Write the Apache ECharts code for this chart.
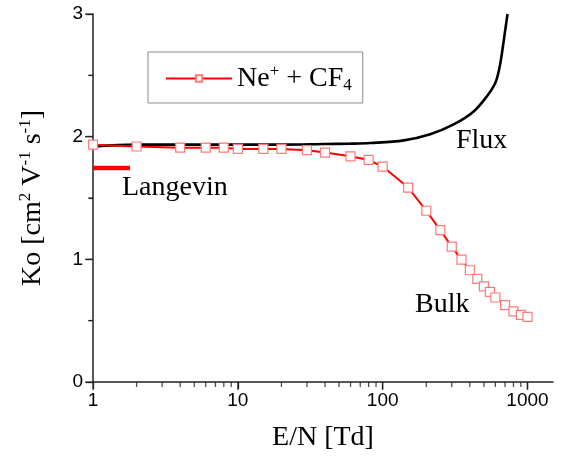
<!DOCTYPE html>
<html>
<head>
<meta charset="utf-8">
<script src="https://cdn.jsdelivr.net/npm/echarts@6/dist/echarts.min.js"></script>
<style>html,body{margin:0;padding:0;background:#fff}#c{width:565px;height:457px}</style>
</head>
<body>
<div id="c"></div>
<script>
// Bulk mobility (Ne+ in CF4)
var bulkX = [1, 2, 4, 6, 8, 10, 15, 20, 30, 40, 60, 80, 100, 150, 200, 250, 300, 350, 400, 450, 500, 550, 600, 700, 800, 900, 1000];
var bulkY = [1.935, 1.92, 1.91, 1.91, 1.91, 1.90, 1.90, 1.90, 1.89, 1.87, 1.84, 1.81, 1.756, 1.585, 1.396, 1.238, 1.103, 0.998, 0.911, 0.84, 0.78, 0.734, 0.689, 0.626, 0.575, 0.547, 0.531];
// Flux mobility
var fluxX = [1, 2, 5, 10, 20, 40, 60, 82, 140, 213, 309, 425, 525, 599, 640, 666, 702, 728];
var fluxY = [1.92, 1.935, 1.935, 1.935, 1.935, 1.94, 1.943, 1.948, 1.97, 2.02, 2.10, 2.206, 2.33, 2.437, 2.56, 2.68, 2.87, 3.0];
// Langevin limit
var langX = [1, 1.8];
var langY = [1.745, 1.745];
// Ticks
var xMajor = [1, 10, 100, 1000];
var xMinor = [2,3,4,5,6,7,8,9,20,30,40,50,60,70,80,90,200,300,400,500,600,700,800,900];
var yMajor = [0, 1, 2, 3];
var yMinor = [0.5, 1.5, 2.5];

function zip(a, b) { return a.map(function (v, i) { return [v, b[i]]; }); }

var serif = '"Liberation Serif", "Times New Roman", serif';
var sans = '"Liberation Sans", Arial, sans-serif';
var axisCol = '#222';

// tick marks drawn as scatter symbols at axis values (through the axis scales)
function tickSeries(data, size, offset) {
  return {
    type: 'scatter', data: data, symbol: 'rect', symbolSize: size, symbolOffset: offset,
    itemStyle: { color: axisCol }, silent: true, clip: false, z: 6,
    tooltip: { show: false }, emphasis: { disabled: true }
  };
}

var chart = echarts.init(document.getElementById('c'));
chart.setOption({
  animation: false,
  grid: { left: 93, right: 12, top: 14, bottom: 74 },
  legend: {
    left: 148, top: 52,
    padding: [11, 11, 9, 17],
    borderColor: '#8c8c8c', borderWidth: 1,
    itemWidth: 66, itemHeight: 8,
    data: ['bulk'],
    formatter: function () { return '{a|Ne}{sup|+}{a| + CF}{sub|4}'; },
    textStyle: {
      fontFamily: serif, fontSize: 28, color: '#000',
      rich: {
        a: { fontFamily: serif, fontSize: 28, color: '#000' },
        sup: { fontFamily: serif, fontSize: 17, color: '#000', verticalAlign: 'top', padding: [0, 0, 14, 0] },
        sub: { fontFamily: serif, fontSize: 17, color: '#000', verticalAlign: 'bottom', padding: [14, 0, 0, 0] }
      }
    }
  },
  xAxis: {
    type: 'log', logBase: 10, min: 1, max: 1500,
    position: 'bottom',
    name: 'E/N [Td]', nameLocation: 'middle', nameGap: 42,
    nameTextStyle: { fontFamily: serif, fontSize: 28, color: '#000' },
    axisLine: { show: true, lineStyle: { color: axisCol, width: 1.5 } },
    axisTick: { show: true, length: 7, customValues: xMajor, lineStyle: { color: axisCol, width: 1.3 } },
    axisLabel: { show: true, customValues: xMajor, formatter: function (v) { return String(Math.round(v)); }, fontFamily: sans, fontSize: 19, color: '#000', margin: 9 },
    splitLine: { show: false }
  },
  yAxis: {
    type: 'value', min: 0, max: 3, interval: 1,
    name: 'Ko [cm{sup|2} V{sup|-1} s{sup|-1}]', nameLocation: 'middle', nameGap: 45,
    nameTextStyle: {
      fontFamily: serif, fontSize: 28, color: '#000',
      rich: {
        sup: { fontFamily: serif, fontSize: 17, color: '#000', verticalAlign: 'top', padding: [0, 0, 14, 0] }
      }
    },
    axisLine: { show: true, lineStyle: { color: axisCol, width: 1.5 } },
    axisTick: { show: true, length: 7, lineStyle: { color: axisCol, width: 1.3 } },
    minorTick: { show: true, splitNumber: 2, length: 4, lineStyle: { color: axisCol, width: 1.2 } },
    axisLabel: { fontFamily: sans, fontSize: 19, color: '#000', margin: 10 },
    splitLine: { show: false }
  },
  series: [{
    name: 'flux', type: 'line', data: zip(fluxX, fluxY),
    smooth: 0.35, showSymbol: false, symbol: 'none',
    lineStyle: { color: '#000', width: 2.6 }, z: 3
  }, {
    name: 'langevin', type: 'line', data: zip(langX, langY),
    showSymbol: false, symbol: 'none',
    lineStyle: { color: '#ff0000', width: 4.5 }, z: 3
  }, {
    name: 'bulk', type: 'line', data: zip(bulkX, bulkY),
    symbol: 'rect', symbolSize: 9,
    itemStyle: { color: '#fff', borderColor: '#ff7a7a', borderWidth: 1.2 },
    lineStyle: { color: '#ff0000', width: 2 }, z: 4
  },
  tickSeries(xMajor.map(function (v) { return [v, 0]; }), [1.4, 8], [0, 4]),
  tickSeries(xMinor.map(function (v) { return [v, 0]; }), [1.3, 5], [0, 2.5]),
  tickSeries(yMajor.map(function (v) { return [1, v]; }), [8, 1.4], [-4, 0]),
  tickSeries(yMinor.map(function (v) { return [1, v]; }), [5, 1.3], [-2.5, 0])
  ],
  graphic: [
    { type: 'text', left: 456, top: 127, style: { text: 'Flux', font: '28px ' + serif, fill: '#000' } },
    { type: 'text', left: 122, top: 174, style: { text: 'Langevin', font: '28px ' + serif, fill: '#000' } },
    { type: 'text', left: 415, top: 291, style: { text: 'Bulk', font: '28px ' + serif, fill: '#000' } }
  ]
});
</script>
</body>
</html>
